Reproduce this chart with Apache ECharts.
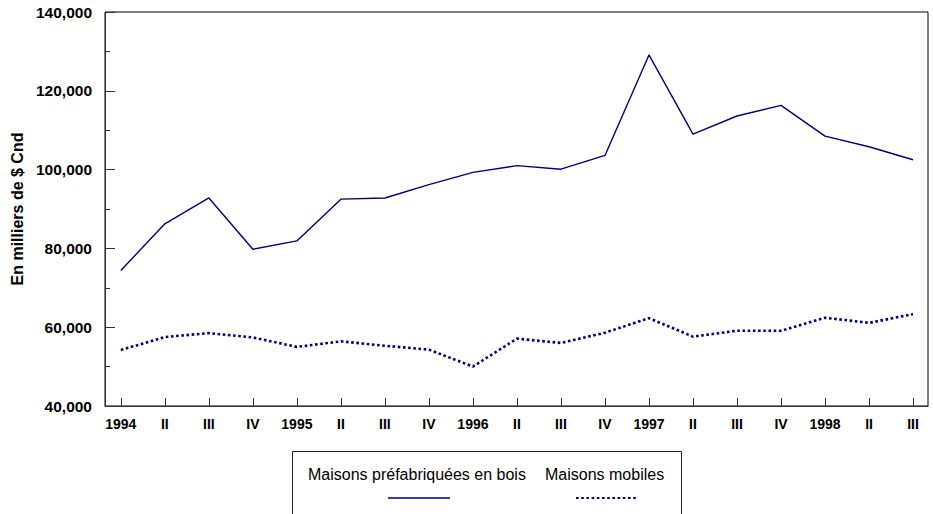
<!DOCTYPE html>
<html>
<head>
<meta charset="utf-8">
<script src="https://cdn.jsdelivr.net/npm/echarts@6/dist/echarts.min.js"></script>
<style>html,body{margin:0;padding:0;background:#fff}#c{width:933px;height:514px}</style>
</head>
<body>
<div id="c"></div>
<script>
var quarterLabels = ['1994','II','III','IV','1995','II','III','IV','1996','II','III','IV','1997','II','III','IV','1998','II','III'];
var seriesNames = ['Maisons préfabriquées en bois', 'Maisons mobiles'];
var prefabValues = [74400, 86250, 92800, 79800, 81900, 92500, 92800, 96200, 99300, 101000, 100100, 103600, 129100, 109000, 113600, 116300, 108500, 105800, 102500];
var mobileValues = [54200, 57500, 58500, 57400, 55000, 56400, 55300, 54300, 50000, 57100, 56000, 58600, 62300, 57600, 59100, 59100, 62400, 61100, 63300];
var yTicks = [40000, 60000, 80000, 100000, 120000, 140000];
var yAxisTitle = 'En milliers de $ Cnd';

var idx = quarterLabels.map(function (_, i) { return i; });
function pairs(vals) { return vals.map(function (v, i) { return [i, v]; }); }
function fmt(v) { return String(v).replace(/\B(?=(\d{3})+(?!\d))/g, ','); }

var chart = echarts.init(document.getElementById('c'), null, { renderer: 'svg' });
var FONT = '"Liberation Sans", Arial, sans-serif';
var NAVY = '#000080';
chart.setOption({
  animation: false,
  backgroundColor: '#fff',
  grid: { left: 105, top: 12, width: 823, height: 394, show: true, borderColor: '#000', borderWidth: 1, backgroundColor: 'transparent' },
  xAxis: {
    type: 'value', min: -0.36, max: 18.34,
    splitLine: { show: false },
    axisLine: { show: true, onZero: false, lineStyle: { color: '#333', width: 1 } },
    axisTick: { show: true, inside: true, length: 8, lineStyle: { color: '#333' }, customValues: idx },
    axisLabel: { customValues: idx, margin: 11, color: '#000', fontFamily: FONT, fontWeight: 'bold', fontSize: 14,
      formatter: function (v) { return quarterLabels[Math.round(v)]; } }
  },
  yAxis: {
    type: 'value', min: yTicks[0], max: yTicks[yTicks.length - 1], interval: 20000,
    splitLine: { show: false },
    axisLine: { show: true, onZero: false, lineStyle: { color: '#333', width: 1 } },
    axisTick: { show: true, inside: true, length: 10, lineStyle: { color: '#333' } },
    minorTick: { show: true, splitNumber: 2, length: 5, lineStyle: { color: '#333' } },
    axisLabel: { margin: 13, color: '#000', fontFamily: FONT, fontWeight: 'bold', fontSize: 15.5, formatter: fmt },
    name: yAxisTitle, nameLocation: 'middle', nameRotate: 90, nameGap: 77,
    nameTextStyle: { color: '#000', fontFamily: FONT, fontWeight: 'bold', fontSize: 16 }
  },
  legend: [
    { data: [seriesNames[0]], left: 302, top: 465, padding: 0, itemWidth: 0, itemHeight: 0, selectedMode: false,
      textStyle: { fontFamily: FONT, fontSize: 16, color: '#000', lineHeight: 18 } },
    { data: [seriesNames[1]], left: 539, top: 465, padding: 0, itemWidth: 0, itemHeight: 0, selectedMode: false,
      textStyle: { fontFamily: FONT, fontSize: 16, color: '#000', lineHeight: 18 } },
    { data: [seriesNames[0]], left: 387, top: 491, padding: 0, itemWidth: 62, itemHeight: 14, selectedMode: false,
      itemStyle: { opacity: 0 }, lineStyle: { color: '#3c3ca8' }, formatter: function () { return ''; } },
    { data: [seriesNames[1]], left: 575, top: 491, padding: 0, itemWidth: 62, itemHeight: 14, selectedMode: false,
      itemStyle: { opacity: 0 }, formatter: function () { return ''; } }
  ],
  graphic: [
    { type: 'rect', shape: { x: 292.5, y: 451.5, width: 389, height: 80 }, style: { fill: 'none', stroke: '#222', lineWidth: 1 }, silent: true }
  ],
  series: [
    { name: seriesNames[0], type: 'line', data: pairs(prefabValues), symbol: 'none',
      lineStyle: { color: NAVY, width: 1.4 }, itemStyle: { color: NAVY } },
    { name: seriesNames[1], type: 'line', data: pairs(mobileValues), symbol: 'none',
      lineStyle: { color: NAVY, width: 2.6, type: [2.6, 2.6] }, itemStyle: { color: NAVY } }
  ]
});
</script>
</body>
</html>
